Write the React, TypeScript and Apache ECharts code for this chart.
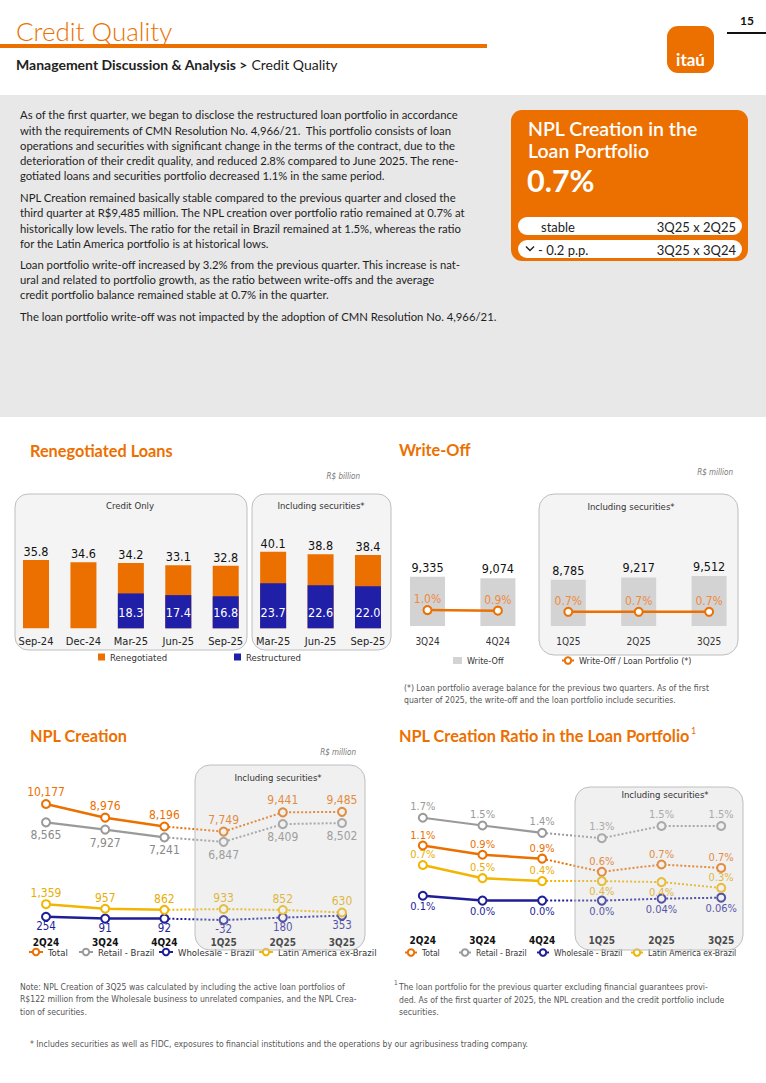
import React, { useEffect, useRef } from "react";
import * as echarts from "echarts";

const ORANGE = "#EC7000";
const BLUE = "#1F1FA8";
const NAVY = "#1E1E96";
const GREYLINE = "#9A9A9A";
const YELLOW = "#F2B600";
const BODY = 'Lato, "Liberation Sans", sans-serif';
const NARROW = '"Liberation Sans Narrow", "DejaVu Sans Condensed", Lato, sans-serif';

// ---------- Renegotiated Loans (R$ billion) ----------
const renegCategories = ["Sep-24", "Dec-24", "Mar-25", "Jun-25", "Sep-25", "Mar-25", "Jun-25", "Sep-25"];
const renegotiatedTotal = [35.8, 34.6, 34.2, 33.1, 32.8, 40.1, 38.8, 38.4];
const restructured: (number | null)[] = [null, null, 18.3, 17.4, 16.8, 23.7, 22.6, 22.0];

// ---------- Write-Off (R$ million) ----------
const writeOffQuarters = ["3Q24", "4Q24", "1Q25", "2Q25", "3Q25"];
const writeOffValues = [9335, 9074, 8785, 9217, 9512];
const writeOffRatio = [1.0, 0.9, 0.7, 0.7, 0.7];

// ---------- NPL Creation (R$ million) ----------
const nplQuarters = ["2Q24", "3Q24", "4Q24", "1Q25", "2Q25", "3Q25"];
const nplTotal = [10177, 8976, 8196, 7749, 9441, 9485];
const nplRetail = [8565, 7927, 7241, 6847, 8409, 8502];
const nplWholesale = [254, 91, 92, -32, 180, 353];
const nplLatam = [1359, 957, 862, 933, 852, 630];

// ---------- NPL Creation Ratio (%) ----------
const ratioTotal = [1.13, 0.94, 0.86, 0.59, 0.74, 0.67];
const ratioRetail = [1.7, 1.54, 1.39, 1.28, 1.53, 1.53];
const ratioWholesale = [0.1, 0.0, 0.0, 0.0, 0.04, 0.06];
const ratioLatam = [0.73, 0.46, 0.4, 0.4, 0.38, 0.26];
const ratioLatamLabelPos = ["top", "top", "top", "bottom", "bottom", "top"];

const legendNames = ["Total", "Retail - Brazil", "Wholesale - Brazil", "Latin America ex-Brazil"];

const paragraphs = [
  "As of the first quarter, we began to disclose the restructured loan portfolio in accordance\nwith the requirements of CMN Resolution No. 4,966/21.  This portfolio consists of loan\noperations and securities with significant change in the terms of the contract, due to the\ndeterioration of their credit quality, and reduced 2.8% compared to June 2025. The rene-\ngotiated loans and securities portfolio decreased 1.1% in the same period.",
  "NPL Creation remained basically stable compared to the previous quarter and closed the\nthird quarter at R$9,485 million. The NPL creation over portfolio ratio remained at 0.7% at\nhistorically low levels. The ratio for the retail in Brazil remained at 1.5%, whereas the ratio\nfor the Latin America portfolio is at historical lows.",
  "Loan portfolio write-off increased by 3.2% from the previous quarter. This increase is nat-\nural and related to portfolio growth, as the ratio between write-offs and the average\ncredit portfolio balance remained stable at 0.7% in the quarter.",
  "The loan portfolio write-off was not impacted by the adoption of CMN Resolution No. 4,966/21.",
];
const paragraphY = [115, 197.7, 264.3, 316.7];

function txt(x: number, y: number, text: string, o: any = {}) {
  return {
    type: "text",
    x,
    y,
    z: o.z ?? 10,
    style: {
      text,
      fill: o.color ?? "#222",
      fontSize: o.size ?? 11,
      fontFamily: o.font ?? BODY,
      fontWeight: o.weight ?? "normal",
      fontStyle: o.fstyle ?? "normal",
      align: o.align ?? "left",
      textAlign: o.align ?? "left",
      verticalAlign: o.va ?? "middle",
      textVerticalAlign: o.va ?? "middle",
      lineHeight: o.lh,
      rich: o.rich,
    },
  };
}
function rrect(x: number, y: number, w: number, h: number, r: number, fill: string, stroke?: string, z = 0) {
  return {
    type: "rect",
    z,
    shape: { x, y, width: w, height: h, r },
    style: { fill, stroke: stroke ?? "none", lineWidth: stroke ? 1 : 0 },
  };
}

function lineSeries(
  name: string,
  values: number[],
  color: string,
  xIdx: number,
  yIdx: number,
  lbl: { pos: string | string[]; dist: number; size: number; color: string; fmt: (v: number) => string },
  solidW = 2.5
) {
  const posAt = (i: number) => (Array.isArray(lbl.pos) ? lbl.pos[i] : lbl.pos);
  const mk = (v: number, i: number) => ({ value: v, label: { show: true, position: posAt(i) } });
  const solid = values.map((v, i) => (i <= 2 ? mk(v, i) : "-"));
  const dotted = values.map((v, i) =>
    i < 2 ? "-" : i === 2 ? { value: v, symbol: "none", label: { show: false } } : mk(v, i)
  );
  const common: any = {
    type: "line",
    name,
    xAxisIndex: xIdx,
    yAxisIndex: yIdx,
    symbol: "emptyCircle",
    symbolSize: 8,
    showAllSymbol: true,
    itemStyle: { color, borderWidth: 2.2 },
    label: {
      show: true,
      distance: lbl.dist,
      fontSize: lbl.size,
      color: lbl.color,
      fontFamily: NARROW,
      formatter: (p: any) => lbl.fmt(p.value),
    },
    emphasis: { disabled: true },
    z: 3,
  };
  return [
    { ...common, data: solid, lineStyle: { color, width: solidW, type: "solid" } },
    { ...common, data: dotted, lineStyle: { color, width: 2, type: "dotted" } },
  ];
}

const fmtInt = (v: number) => v.toLocaleString("en-US");
const fmtPct1 = (v: number) => v.toFixed(1) + "%";
const fmtPctW = (v: number) => (v > 0 && v < 0.1 ? v.toFixed(2) : v.toFixed(1)) + "%";

function legendItem(name: string, left: number, top: number, size: number, icon?: string, w = 14, h = 8) {
  const l: any = {
    data: [name],
    left,
    top,
    padding: 0,
    itemGap: 0,
    itemWidth: w,
    itemHeight: h,
    selectedMode: false,
    textStyle: { fontSize: size, color: "#333", fontFamily: NARROW },
  };
  if (icon) l.icon = icon;
  return l;
}

function buildGraphic() {
  const g: any[] = [];
  // header
  g.push(txt(16, 31, "Credit Quality", { size: 26, color: ORANGE, weight: 300 }));
  g.push(rrect(0, 44, 487, 4, 0, ORANGE));
  g.push(
    txt(16, 64, "{b|Management Discussion & Analysis >} {r|Credit Quality}", {
      size: 14,
      rich: {
        b: { fontSize: 14, fontWeight: "bold", fontFamily: BODY, fill: "#222" },
        r: { fontSize: 14, fontFamily: BODY, fill: "#222" },
      },
    })
  );
  g.push(rrect(667, 26, 47, 47, 11, ORANGE));
  g.push(txt(690.5, 59, "itaú", { size: 17, weight: "bold", color: "#fff", align: "center" }));
  g.push(txt(747, 20, "15", { size: 12, weight: "bold", color: "#111", align: "center" }));
  g.push(rrect(727, 32, 39, 2, 0, "#111"));

  // gray band with text
  g.push(rrect(0, 95, 766, 322, 0, "#E8E8E8"));
  paragraphs.forEach((p, i) => {
    g.push(txt(20, paragraphY[i] - 7.6, p, { size: 11.3, va: "top", lh: 15.2, color: "#1E1E1E" }));
  });

  // NPL box
  g.push(rrect(511, 110, 237, 151, 11, ORANGE));
  g.push(txt(528, 128.5, "NPL Creation in the", { size: 19.5, weight: 600, color: "#fff" }));
  g.push(txt(528, 150.5, "Loan Portfolio", { size: 19.5, weight: 600, color: "#fff" }));
  g.push(txt(527, 180, "0.7%", { size: 30.5, weight: "bold", color: "#fff" }));
  g.push(rrect(518, 217, 224, 18, 9, "#fff"));
  g.push(rrect(518, 240, 224, 18, 9, "#fff"));
  g.push(txt(541, 226.5, "stable", { size: 13, color: "#222" }));
  g.push(txt(736, 226.5, "3Q25 x 2Q25", { size: 13, color: "#222", align: "right" }));
  g.push({
    type: "polyline",
    z: 10,
    shape: { points: [[526, 246.5], [530, 250.5], [534, 246.5]] },
    style: { stroke: "#222", lineWidth: 1.4, fill: "none" },
  });
  g.push(txt(538, 249.5, "- 0.2 p.p.", { size: 13, color: "#222" }));
  g.push(txt(736, 249.5, "3Q25 x 3Q24", { size: 13, color: "#222", align: "right" }));

  // section titles
  g.push(txt(30, 450, "Renegotiated Loans", { size: 16.3, weight: "bold", color: ORANGE }));
  g.push(txt(399, 449, "Write-Off", { size: 16.3, weight: "bold", color: ORANGE }));
  g.push(txt(30, 735, "NPL Creation", { size: 16.3, weight: "bold", color: ORANGE }));
  g.push(
    txt(399, 735, "{t|NPL Creation Ratio in the Loan Portfolio}{s|1}", {
      size: 16,
      rich: {
        t: { fontSize: 16.3, fontWeight: "bold", fill: ORANGE, fontFamily: BODY },
        s: { fontSize: 9, fill: ORANGE, fontFamily: BODY, padding: [0, 0, 10, 1] },
      },
    })
  );
  g.push(txt(360, 476, "R$ billion", { size: 8, fstyle: "italic", color: "#777", align: "right", font: NARROW }));
  g.push(txt(733, 472, "R$ million", { size: 8, fstyle: "italic", color: "#777", align: "right", font: NARROW }));
  g.push(txt(356, 752, "R$ million", { size: 8, fstyle: "italic", color: "#777", align: "right", font: NARROW }));

  // boxes behind (renegotiated + write-off)
  g.push(rrect(15, 494, 232, 156, 13, "#F4F4F4", "#BEBEBE", 0));
  g.push(rrect(252, 494, 139, 156, 13, "#F4F4F4", "#BEBEBE", 0));
  g.push(rrect(539, 494, 199, 161, 15, "#F4F4F4", "#BEBEBE", 0));
  g.push(txt(130, 505, "Credit Only", { size: 9.5, color: "#333", align: "center", font: NARROW }));
  g.push(txt(321, 505, "Including securities*", { size: 9.5, color: "#333", align: "center", font: NARROW }));
  g.push(txt(631, 506, "Including securities*", { size: 9.5, color: "#333", align: "center", font: NARROW }));

  // overlay boxes (NPL creation + ratio)
  g.push(rrect(195, 765, 170, 185, 15, "rgba(205,205,205,0.3)", "#BEBEBE", 50));
  g.push(rrect(575, 787, 168, 163, 15, "rgba(205,205,205,0.3)", "#BEBEBE", 50));
  g.push(txt(278, 777, "Including securities*", { size: 9.5, color: "#333", align: "center", font: NARROW, z: 60 }));
  g.push(txt(665, 794, "Including securities*", { size: 9.5, color: "#333", align: "center", font: NARROW, z: 60 }));

  // footnotes
  g.push(
    txt(
      404,
      688 - 6.2,
      "(*) Loan portfolio average balance for the previous two quarters. As of the first\nquarter of 2025, the write-off and the loan portfolio include securities.",
      { size: 8.6, color: "#555", va: "top", lh: 12.4, font: NARROW }
    )
  );
  g.push(
    txt(
      20,
      987 - 6,
      "Note: NPL Creation of 3Q25 was calculated by including the active loan portfolios of\nR$122 million from the Wholesale business to unrelated companies, and the NPL Crea-\ntion of securities.",
      { size: 8.6, color: "#555", va: "top", lh: 12.2, font: NARROW }
    )
  );
  g.push(txt(394, 983, "1", { size: 6.5, color: "#555", font: NARROW }));
  g.push(
    txt(
      399,
      987 - 6.3,
      "The loan portfolio for the previous quarter excluding financial guarantees provi-\nded. As of the first quarter of 2025, the NPL creation and the credit portfolio include\nsecurities.",
      { size: 8.6, color: "#555", va: "top", lh: 12.6, font: NARROW }
    )
  );
  g.push(
    txt(
      30,
      1044,
      "* Includes securities as well as FIDC, exposures to financial institutions and the operations by our agribusiness trading company.",
      { size: 8.6, color: "#555", font: NARROW }
    )
  );
  return g;
}

function buildOption(): any {
  const axisCommon = {
    type: "category",
    axisLine: { show: false },
    axisTick: { show: false },
    splitLine: { show: false },
  };
  const hiddenY = { type: "value", show: false, splitLine: { show: false } };

  const series: any[] = [
    {
      type: "bar",
      name: "Renegotiated",
      xAxisIndex: 0,
      yAxisIndex: 0,
      data: renegotiatedTotal,
      barWidth: 26,
      itemStyle: { color: ORANGE },
      label: {
        show: true,
        position: "top",
        distance: 2,
        fontSize: 12.5,
        color: "#111",
        fontFamily: NARROW,
        formatter: (p: any) => Number(p.value).toFixed(1),
      },
      z: 2,
    },
    {
      type: "bar",
      name: "Restructured",
      xAxisIndex: 0,
      yAxisIndex: 0,
      data: restructured.map((v) => (v === null ? "-" : v)),
      barWidth: 26,
      barGap: "-100%",
      itemStyle: { color: BLUE },
      label: {
        show: true,
        position: "insideBottom",
        distance: 9,
        fontSize: 12.5,
        color: "#fff",
        fontFamily: NARROW,
        formatter: (p: any) => Number(p.value).toFixed(1),
      },
      z: 3,
    },
    {
      type: "bar",
      name: "Write-Off",
      xAxisIndex: 1,
      yAxisIndex: 1,
      data: writeOffValues,
      barWidth: 35,
      itemStyle: { color: "#D3D3D3" },
      label: {
        show: true,
        position: "top",
        distance: 3,
        fontSize: 12.5,
        color: "#111",
        fontFamily: NARROW,
        formatter: (p: any) => fmtInt(p.value),
      },
    },
  ];
  const woCommon: any = {
    type: "line",
    name: "Write-Off / Loan Portfolio (*)",
    xAxisIndex: 1,
    yAxisIndex: 2,
    symbol: "emptyCircle",
    symbolSize: 8,
    itemStyle: { color: ORANGE, borderWidth: 2.2 },
    lineStyle: { color: ORANGE, width: 2.5 },
    label: {
      show: true,
      position: "top",
      distance: 0,
      fontSize: 12,
      color: "#EF8A3E",
      fontFamily: NARROW,
      formatter: (p: any) => fmtPct1(p.value),
    },
    z: 4,
  };
  series.push({ ...woCommon, data: writeOffRatio.map((v, i) => (i < 2 ? v : "-")) });
  series.push({ ...woCommon, data: writeOffRatio.map((v, i) => (i >= 2 ? v : "-")) });

  // NPL creation
  series.push(...lineSeries(legendNames[0], nplTotal, ORANGE, 2, 3, { pos: "top", dist: 1, size: 12, color: ORANGE, fmt: fmtInt }));
  series.push(...lineSeries(legendNames[1], nplRetail, GREYLINE, 2, 3, { pos: "bottom", dist: 2, size: 12, color: "#8A8A8A", fmt: fmtInt }, 2.2));
  series.push(...lineSeries(legendNames[2], nplWholesale, NAVY, 2, 3, { pos: "bottom", dist: -2, size: 11.5, color: NAVY, fmt: fmtInt }));
  series.push(...lineSeries(legendNames[3], nplLatam, YELLOW, 2, 3, { pos: "top", dist: 0, size: 12, color: "#E9AD00", fmt: fmtInt }));

  // ratio
  series.push(...lineSeries(legendNames[0], ratioTotal, ORANGE, 3, 4, { pos: "top", dist: 0, size: 11, color: ORANGE, fmt: fmtPct1 }));
  series.push(...lineSeries(legendNames[1], ratioRetail, GREYLINE, 3, 4, { pos: "top", dist: 1, size: 11, color: "#9A9A9A", fmt: fmtPct1 }, 2.2));
  series.push(...lineSeries(legendNames[2], ratioWholesale, NAVY, 3, 4, { pos: "bottom", dist: 0, size: 11, color: NAVY, fmt: fmtPctW }));
  series.push(...lineSeries(legendNames[3], ratioLatam, YELLOW, 3, 4, { pos: ratioLatamLabelPos, dist: 0, size: 11, color: "#E9AD00", fmt: fmtPct1 }));

  return {
    animation: false,
    backgroundColor: "#fff",
    textStyle: { fontFamily: NARROW },
    grid: [
      { left: 12.3, top: 533, width: 379.4, height: 95.3 },
      { left: 392.3, top: 526, width: 352, height: 100 },
      { left: 16.4, top: 783.3, width: 355.2, height: 147.7 },
      { left: 393, top: 803.1, width: 358, height: 117 },
    ],
    xAxis: [
      { ...axisCommon, gridIndex: 0, data: renegCategories, axisLabel: { color: "#222", fontSize: 11, margin: 8, fontFamily: NARROW, interval: 0 } },
      { ...axisCommon, gridIndex: 1, data: writeOffQuarters, axisLabel: { color: "#333", fontSize: 10, margin: 10, fontFamily: NARROW, interval: 0 } },
      { ...axisCommon, gridIndex: 2, data: nplQuarters, axisLabel: { color: "#111", fontSize: 10, fontWeight: "bold", margin: 6.5, fontFamily: NARROW, interval: 0 } },
      { ...axisCommon, gridIndex: 3, data: nplQuarters, axisLabel: { color: "#111", fontSize: 10, fontWeight: "bold", margin: 15, fontFamily: NARROW, interval: 0 } },
    ],
    yAxis: [
      { ...hiddenY, gridIndex: 0, min: 0, max: 50 },
      { ...hiddenY, gridIndex: 1, min: 0, max: 19000 },
      { ...hiddenY, gridIndex: 1, min: -1.8, max: 15.8 },
      { ...hiddenY, gridIndex: 2, min: -1000, max: 12000 },
      { ...hiddenY, gridIndex: 3, min: -0.4, max: 2.0 },
    ],
    legend: [
      legendItem("Renegotiated", 98, 652, 9.5, "rect", 7, 7),
      legendItem("Restructured", 234, 652, 9.5, "rect", 7, 7),
      legendItem("Write-Off", 453, 656, 9, "rect", 9, 7),
      legendItem("Write-Off / Loan Portfolio (*)", 561, 656, 9, undefined, 12, 8),
      legendItem(legendNames[0], 28, 947, 9.5),
      legendItem(legendNames[1], 78, 947, 9.5),
      legendItem(legendNames[2], 158, 947, 9.5),
      legendItem(legendNames[3], 258, 947, 9.5),
      legendItem(legendNames[0], 404, 948, 8.5, undefined, 12, 8),
      legendItem(legendNames[1], 458, 948, 8.5, undefined, 12, 8),
      legendItem(legendNames[2], 536, 948, 8.5, undefined, 12, 8),
      legendItem(legendNames[3], 630, 948, 8.5, undefined, 12, 8),
    ],
    graphic: { elements: buildGraphic() },
    series,
  };
}

export default function App() {
  const ref = useRef<HTMLDivElement>(null);
  useEffect(() => {
    if (!ref.current) return;
    const chart = echarts.init(ref.current, undefined, { renderer: "svg" });
    chart.setOption(buildOption());
    return () => chart.dispose();
  }, []);
  return (
    <div
      ref={ref}
      style={{ position: "absolute", left: 0, top: 0, width: 766, height: 1083, background: "#fff" }}
    />
  );
}
